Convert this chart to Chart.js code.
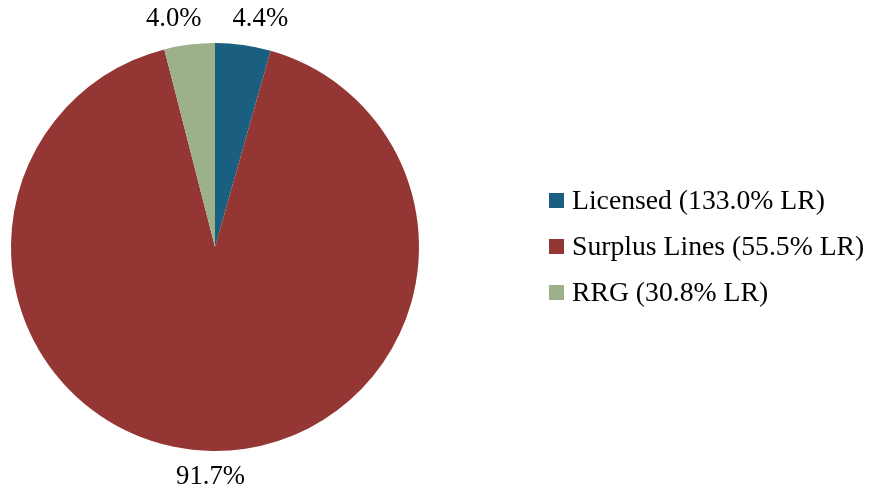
<!DOCTYPE html>
<html>
<head>
<meta charset="utf-8">
<script src="https://cdn.jsdelivr.net/npm/chart.js@4/dist/chart.umd.min.js"></script>
<style>
  html, body { margin: 0; padding: 0; background: #fff; }
  .wrap { position: relative; width: 869px; height: 492px; }
  .legend { position: absolute; left: 549px; top: 177px; font-family: "Liberation Serif", "Times New Roman", serif; font-size: 27.7px; color: #000; }
  .legend__item { display: flex; align-items: center; height: 46px; white-space: nowrap; }
  .legend__box { width: 15px; height: 15px; margin-right: 8px; }
</style>
</head>
<body>
<div class="wrap">
  <canvas id="chart" width="869" height="492"></canvas>
  <div class="legend" id="legend"></div>
</div>
<script>
// categorias e valores (% do prêmio)
const categorias = ['Licensed (133.0% LR)', 'Surplus Lines (55.5% LR)', 'RRG (30.8% LR)'];
const valores = [4.4, 91.7, 4.0];
const rotulos = ['4.4%', '91.7%', '4.0%'];
const cores = ['#1A5E80', '#943634', '#9CB08A'];

// rótulos de dados fora da pizza
const rotulosPlugin = {
  id: 'rotulos',
  afterDatasetsDraw(chart) {
    const ctx = chart.ctx;
    const meta = chart.getDatasetMeta(0);
    ctx.save();
    ctx.font = '26.7px "Liberation Serif", "Times New Roman", serif';
    ctx.fillStyle = '#000';
    ctx.textAlign = 'center';
    ctx.textBaseline = 'middle';
    meta.data.forEach((arc, i) => {
      const ang = (arc.startAngle + arc.endAngle) / 2;
      const dx = Math.cos(ang), dy = Math.sin(ang);
      const r = arc.outerRadius + 14;
      const w = ctx.measureText(rotulos[i]).width;
      const x = arc.x + r * dx + (w / 2) * dx * 4;
      const y = arc.y + r * dy + 12 * dy;
      ctx.fillText(rotulos[i], x, y);
    });
    ctx.restore();
  }
};

new Chart(document.getElementById('chart'), {
  type: 'pie',
  data: {
    labels: categorias,
    datasets: [{
      data: valores,
      backgroundColor: cores,
      borderWidth: 0,
    }],
  },
  options: {
    responsive: false,
    animation: false,
    layout: { padding: { left: 11, top: 43, bottom: 41, right: 450 } },
    plugins: {
      legend: { display: false },
      tooltip: { enabled: false },
    },
  },
  plugins: [rotulosPlugin],
});

// legenda em HTML
document.getElementById('legend').innerHTML = categorias.map((c, i) => `
  <div class="legend__item">
    <span class="legend__box" style="background:${cores[i]}"></span>${c}
  </div>`).join('');
</script>
</body>
</html>
